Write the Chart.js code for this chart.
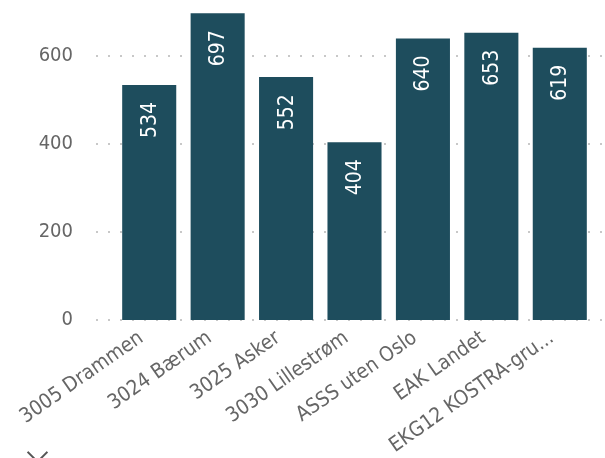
<!DOCTYPE html>
<html>
<head>
<meta charset="utf-8">
<script src="https://cdn.jsdelivr.net/npm/chart.js@4"></script>
<style>
  html, body { margin: 0; padding: 0; background: #fff; overflow: hidden; }
  #wrap { position: relative; width: 605px; height: 458px; }
  #chev { position: absolute; left: 30px; top: 445px; width: 13px; height: 13px;
          border-left: 2px solid #555; border-bottom: 2px solid #555; transform: rotate(-45deg); }
</style>
</head>
<body>
<div id="wrap">
  <canvas id="canvas1" width="605" height="458"></canvas>
  <div id="chev"></div>
</div>
<script>
const categories = ['3005 Drammen', '3024 Bærum', '3025 Asker', '3030 Lillestrøm', 'ASSS uten Oslo', 'EAK Landet', 'EKG12 KOSTRA-gru...'];
const values = [534, 697, 552, 404, 640, 653, 619];
const yTicks = [0, 200, 400, 600];

const FONT = "'DejaVu Sans Condensed', 'DejaVu Sans', sans-serif";

// dotted horizontal lines across the whole width, behind the bars
const dotGrid = {
  id: 'dotGrid',
  beforeDatasetsDraw(chart) {
    const ctx = chart.ctx, y = chart.scales.y;
    ctx.save();
    ctx.strokeStyle = '#c8c8c8';
    ctx.lineWidth = 2;
    ctx.setLineDash([2, 10]);
    yTicks.forEach(v => {
      const py = Math.round(y.getPixelForValue(v));
      ctx.beginPath();
      ctx.moveTo(96, py);
      ctx.lineTo(605, py);
      ctx.stroke();
    });
    ctx.restore();
  }
};

// values written inside the bars, turned upright
const barLabels = {
  id: 'barLabels',
  afterDatasetsDraw(chart) {
    const ctx = chart.ctx;
    const meta = chart.getDatasetMeta(0);
    ctx.save();
    ctx.fillStyle = '#ffffff';
    ctx.font = '21px ' + FONT;
    ctx.textAlign = 'right';
    ctx.textBaseline = 'middle';
    meta.data.forEach((bar, i) => {
      ctx.save();
      ctx.translate(bar.x, bar.y + 17);
      ctx.rotate(-Math.PI / 2);
      ctx.fillText(String(values[i]), 0, 1);
      ctx.restore();
    });
    ctx.restore();
  }
};

new Chart(document.getElementById('canvas1'), {
  type: 'bar',
  data: {
    labels: categories,
    datasets: [{
      data: values,
      backgroundColor: '#1e4d5d',
      borderWidth: 0,
      categoryPercentage: 1,
      barPercentage: 0.79
    }]
  },
  options: {
    responsive: false,
    animation: false,
    events: [],
    layout: { padding: { left: 0, right: 11, top: 12, bottom: 0 } },
    plugins: { legend: { display: false }, tooltip: { enabled: false } },
    scales: {
      x: {
        grid: { display: false },
        border: { display: false },
        ticks: {
          color: '#666',
          font: { family: FONT, size: 20.5 },
          minRotation: 35,
          maxRotation: 35,
          padding: -2,
          labelOffset: -8,
          autoSkip: false
        },
        afterFit: s => { s.height = 138; s.paddingLeft = 0; s.paddingRight = 0; }
      },
      y: {
        min: 0,
        max: 700,
        grid: { display: false },
        border: { display: false },
        ticks: {
          stepSize: 200,
          includeBounds: false,
          color: '#666',
          font: { family: FONT, size: 20 },
          padding: 34
        },
        afterFit: s => { s.width = 115; s.paddingTop = 0; s.paddingBottom = 0; }
      }
    }
  },
  plugins: [dotGrid, barLabels]
});
</script>
</body>
</html>
